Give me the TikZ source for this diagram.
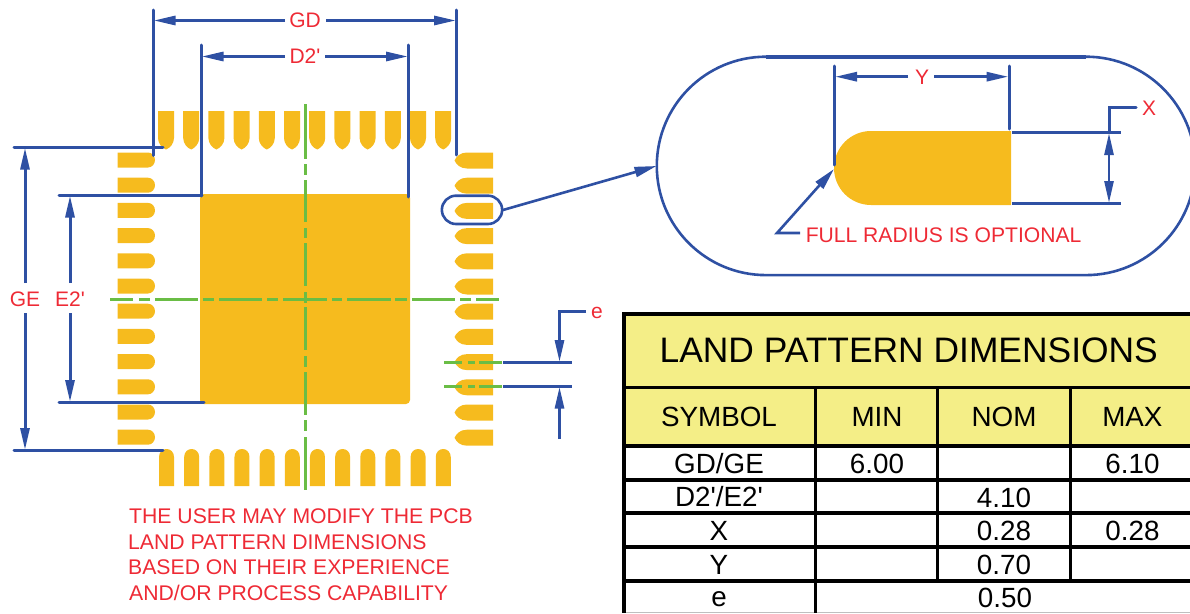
\documentclass[tikz,border=0pt]{standalone}
\usepackage{fontspec}
\setmainfont{Liberation Sans}
\newfontfamily\plainfont{Liberation Sans}
\usetikzlibrary{arrows.meta}
\definecolor{gold}{HTML}{F6BB1E}
\definecolor{dimblue}{HTML}{2E50A3}
\definecolor{labred}{HTML}{EE2A35}
\definecolor{cline}{HTML}{6ABD45}
\definecolor{hdr}{HTML}{F4EE87}
\newcommand{\prm}{{\plainfont'}}
\tikzset{
  x=1pt,y=-1pt,
  pad/.style={fill=gold,draw=none},
  dimline/.style={draw=dimblue,line width=3pt},
  dimthin/.style={draw=dimblue,line width=2.6pt},
  arr/.style={-{Triangle[length=22pt,width=9pt]}},
  rarr/.style={{Triangle[length=22pt,width=9pt]}-{Triangle[length=22pt,width=9pt]}},
  centre/.style={draw=cline,line width=3pt},
  redtxt/.style={text=labred,inner sep=0pt,font=\fontsize{21}{21}\selectfont},
  note/.style={text=labred,inner sep=0pt,anchor=west,font=\fontsize{21.2}{21.2}\selectfont},
  grid/.style={draw=black,line width=3.2pt},
  hdrtxt/.style={inner sep=0pt,font=\fontsize{27.8}{27.8}\selectfont},
  celltxt/.style={inner sep=0pt,font=\fontsize{27.8}{27.8}\selectfont},
}
\begin{document}
\begin{tikzpicture}
\useasboundingbox (0,0) rectangle (1190,613);
% pads
\foreach \i in {0,...,11}{
  \pgfmathsetmacro{\xa}{158+25.2*\i}
  \fill[pad] (\xa,111) -- (\xa+16,111) -- (\xa+16,138) .. controls (\xa+16,143.5) and (\xa+12,148) .. (\xa+8,149.5) .. controls (\xa+4,148) and (\xa,143.5) .. (\xa,138) -- cycle;
  \pgfmathsetmacro{\xb}{159+25.16*\i}
  \fill[pad] (\xb,486) -- (\xb,457) .. controls (\xb,452) and (\xb+3.5,449) .. (\xb+7.5,449) .. controls (\xb+11.5,449) and (\xb+15,452) .. (\xb+15,457) -- (\xb+15,486) -- cycle;
  \pgfmathsetmacro{\ya}{152.5+25.2*\i}
  \fill[pad] (117.5,\ya) -- (148,\ya) .. controls (152,\ya) and (155,\ya+3.5) .. (155,\ya+7.5) .. controls (155,\ya+11.5) and (152,\ya+15) .. (148,\ya+15) -- (117.5,\ya+15) -- cycle;
  \fill[pad] (493,\ya) -- (467,\ya) .. controls (460,\ya) and (456.5,\ya+4) .. (454.5,\ya+8) .. controls (456.5,\ya+12) and (460,\ya+16) .. (467,\ya+16) -- (493,\ya+16) -- cycle;
}
% exposed pad
\fill[pad,rounded corners=4pt] (200,194) rectangle (410,404);
% centre lines
\draw[centre] (305,104)--(305,159) (305,164)--(305,175) (305,180)--(305,222) (305,228)--(305,238) (305,243)--(305,286) (305,292)--(305,303) (305,307)--(305,350) (305,356)--(305,367) (305,372)--(305,415) (305,420)--(305,431) (305,437)--(305,490);
\draw[centre] (110,299)--(133,299) (139,299)--(150,299) (155,299)--(198,299) (203,299)--(214,299) (219,299)--(262,299) (267,299)--(278,299) (283,299)--(327,299) (332,299)--(342,299) (347,299)--(391,299) (395,299)--(407,299) (412,299)--(455,299) (460,299)--(471,299) (476,299)--(499,299);
\draw[centre] (444,362)--(462,362) (468,362)--(475,362) (479,362)--(501.5,362);
\draw[centre] (444,386.7)--(462,386.7) (468,386.7)--(475,386.7) (479,386.7)--(501.5,386.7);
% extension lines
\draw[dimline,line cap=round] (153.5,10)--(153.5,155.5);
\draw[dimline,line cap=round] (456.5,10)--(456.5,155);
\draw[dimline,line cap=round] (201.5,45)--(201.5,196);
\draw[dimline,line cap=round] (408.5,45)--(408.5,197);
\draw[dimline,line cap=round] (14,147.7)--(163,147.7);
\draw[dimline,line cap=round] (14,450)--(163,450);
\draw[dimline,line cap=round] (59,195.5)--(202,195.5);
\draw[dimline,line cap=round] (59,402)--(204,402);
% labels and dimension arrows
\node[redtxt] (gd) at (305,20.5) {GD};
\node[redtxt] (d2) at (305,56.5) {D2\prm};
\node[redtxt] (ge) at (25,299) {GE};
\node[redtxt] (e2) at (70,299) {E2\prm};
\node[redtxt] (ee) at (597,313) {e};
\coordinate (gdl) at (153.5,20.5); \coordinate (gdr) at (456,20.5);
\coordinate (dl) at (201.5,56.5); \coordinate (dr) at (408,56.5);
\coordinate (get) at (25,147.7); \coordinate (geb) at (25,450);
\coordinate (et) at (70,195.5); \coordinate (eb) at (70,402);
\draw[dimline,arr] (285,20.5)--(gdl);
\draw[dimline,arr] (326,20.5)--(gdr);
\draw[dimline,arr] (285,56.5)--(dl);
\draw[dimline,arr] (325,56.5)--(dr);
\draw[dimline,arr] (25,283)--(get);
\draw[dimline,arr] (25,313)--(geb);
\draw[dimline,arr] (70,283)--(et);
\draw[dimline,arr] (70,313)--(eb);
% pitch e
\draw[dimline] (503,362)--(571.5,362);
\draw[dimline] (503,386.7)--(571.5,386.7);
\coordinate (epa) at (559.5,362); \coordinate (epb) at (559.5,386.7);
\draw[dimline,arr] (586,311.7)--(559.5,311.7)--(epa);
\draw[dimline,arr] (559.5,439)--(epb);
% detail ring and leader
\draw[dimthin] (456,195.7) -- (488,195.7) arc[start angle=90,end angle=-90,radius=14.15pt] -- (456,224) arc[start angle=270,end angle=90,radius=14.15pt] -- cycle;
\coordinate (ovall) at (656.5,166);
\draw[dimthin,-{Triangle[length=22pt,width=10pt]}] (503,210)--(ovall);
% detail oval
\begin{scope}
\clip (600,40) rectangle (1190,300);
\draw[dimthin] (766,56.7) arc[start angle=90,end angle=270,radius=109.2pt] -- (1086,275.1) arc[start angle=-90,end angle=90,radius=109.2pt];
\end{scope}
\draw[draw=dimblue,line width=4pt] (766,57)--(1086,57);
% detail pad
\fill[pad] (1011,131) -- (871,131) arc[start angle=90,end angle=270,radius=37pt] -- (1011,205) -- cycle;
\node[redtxt] (yy) at (922,77) {Y};
\node[redtxt] (xx) at (1149,108) {X};
\draw[dimline,line cap=round] (834.7,66)--(834.7,165);
\draw[dimline,line cap=round] (1009,66)--(1009,129);
\draw[dimline] (1012,132.7)--(1120.5,132.7);
\draw[dimline] (1012,203.3)--(1120.5,203.3);
\coordinate (yl) at (835,76.7); \coordinate (yr) at (1008.5,76.7);
\draw[dimline,arr] (908,76.7)--(yl);
\draw[dimline,arr] (934,76.7)--(yr);
\draw[dimline,line cap=round] (1136,107.7)--(1109,107.7)--(1109,132);
\draw[draw=dimblue,line width=2.6pt,rarr] (1109,133)--(1109,203);
\coordinate (rad) at (834,169);
\draw[dimthin,-{Triangle[length=22pt,width=10pt]}] (800,233)--(777,233)--(rad);
\node[note,font=\fontsize{21.1}{21.1}\selectfont] (full) at (805.6,235) {FULL RADIUS IS OPTIONAL};
% notes
\node[note] (n1) at (129,516.5) {THE USER MAY MODIFY THE PCB};
\node[note] (n2) at (128,542) {LAND PATTERN DIMENSIONS};
\node[note] (n3) at (128,567.5) {BASED ON THEIR EXPERIENCE};
\node[note] (n4) at (129,593) {AND/OR PROCESS CAPABILITY};
% table
\fill[hdr] (624,314) rectangle (1190,446);
\draw[draw=black!25,line width=1pt] (624,612.5)--(1190,612.5);
\draw[grid] (1190,314)--(624,314)--(624,613);
\draw[grid] (624,387.7)--(1190,387.7);
\draw[grid] (624,446)--(1190,446);
\draw[grid] (624,480)--(1190,480);
\draw[grid] (624,513)--(1190,513);
\draw[grid] (624,547)--(1190,547);
\draw[grid,line width=4pt] (624,581)--(1190,581);
\draw[grid] (815.7,387.7)--(815.7,613);
\draw[grid] (937.8,387.7)--(937.8,581);
\draw[grid,line width=3.6pt] (1070.6,387.7)--(1070.6,581);
\node[inner sep=0pt,font=\fontsize{35.4}{35.4}\selectfont] (title) at (908.7,350.7) {LAND PATTERN DIMENSIONS};
\node[hdrtxt] (h1) at (719,417) {SYMBOL};
\node[hdrtxt] (h2) at (877,417) {MIN};
\node[hdrtxt] (h3) at (1004,417) {NOM};
\node[hdrtxt] (h4) at (1132.4,417) {MAX};
\node[celltxt] (r1a) at (719,464) {GD/GE};
\node[celltxt] (r1b) at (877,464) {6.00};
\node[celltxt] (r1d) at (1132.4,464) {6.10};
\node[celltxt] (r2a) at (719,497) {D2\prm/E2\prm};
\node[celltxt] (r2c) at (1004,498) {4.10};
\node[celltxt] (r3a) at (719,531) {X};
\node[celltxt] (r3c) at (1004,531) {0.28};
\node[celltxt] (r3d) at (1132.4,531) {0.28};
\node[celltxt] (r4a) at (719,565) {Y};
\node[celltxt] (r4c) at (1004,565) {0.70};
\node[celltxt] (r5a) at (719,599) {e};
\node[celltxt] (r5c) at (1005,598) {0.50};
\end{tikzpicture}
\end{document}
